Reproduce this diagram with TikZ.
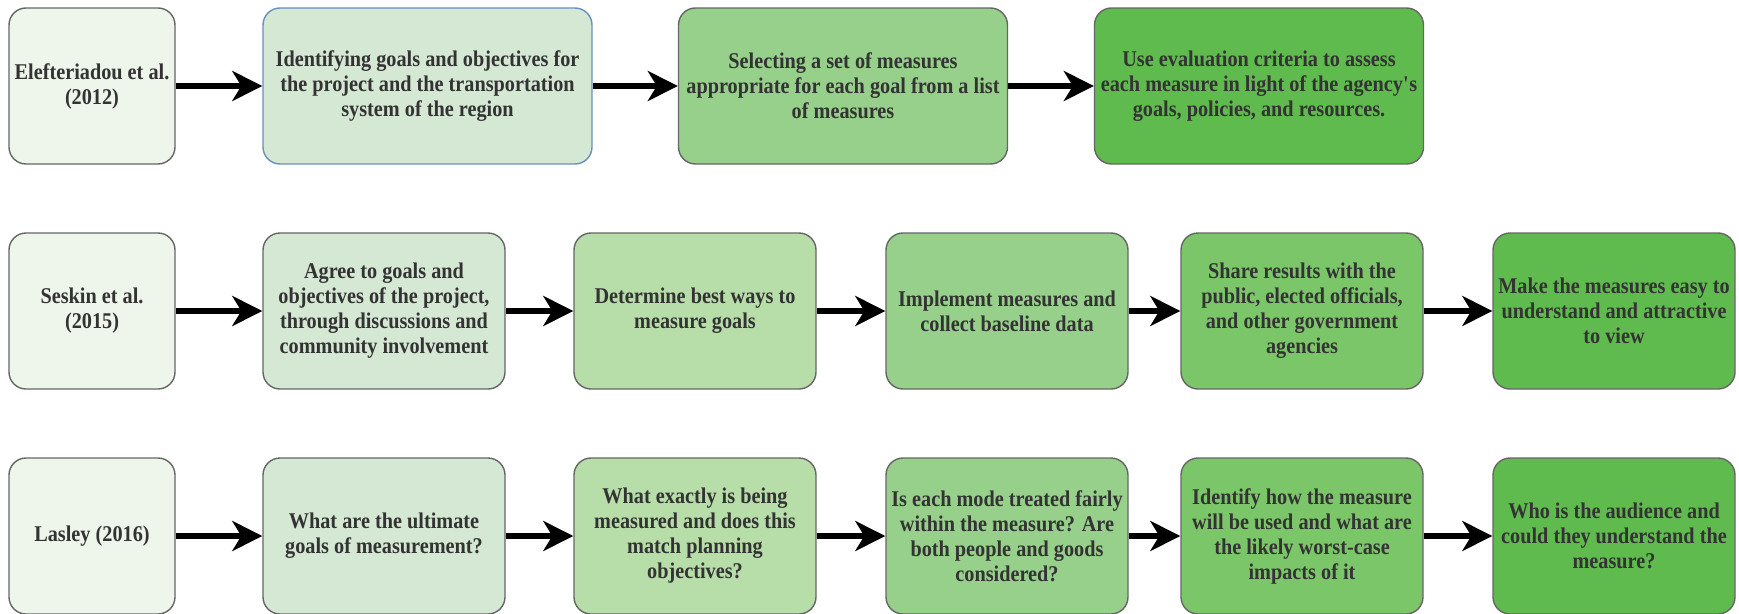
\documentclass[tikz,border=0pt]{standalone}
\usepackage{fontspec}
\setmainfont{Liberation Serif}[FakeStretch=0.9]
\usetikzlibrary{arrows.meta}
\definecolor{cA}{HTML}{EEF5EA}
\definecolor{cB}{HTML}{D5E8D4}
\definecolor{cC}{HTML}{B7DDA9}
\definecolor{cD}{HTML}{97D08A}
\definecolor{cE}{HTML}{7CC66A}
\definecolor{cF}{HTML}{60BB4E}
\definecolor{bordergray}{HTML}{666666}
\definecolor{borderblue}{HTML}{6C8EBF}
\definecolor{txt}{HTML}{333333}
\tikzset{
  box/.style={draw=bordergray, line width=1.4pt, rounded corners=17pt, minimum height=156pt,
    align=center, inner sep=0pt, text=txt, font=\bfseries\fontsize{22.5}{25}\selectfont},
  wide/.style={box, minimum width=329pt},
  narrow/.style={box, minimum width=242pt},
  src/.style={box, minimum width=166pt, fill=cA},
  flow/.style={line width=5.5pt, -{Stealth[length=30pt,width=30pt,inset=9pt]}}
}
\begin{document}
\begin{tikzpicture}[x=1pt,y=-1pt]
\useasboundingbox (0,0) rectangle (1739,613);
% row 1
\node[src] (a1) at (92,86) {Elefteriadou et al.\\(2012)};
\node[wide, fill=cB, draw=borderblue] (b1) at (427.5,86) {Identifying goals and objectives for\\the project and the transportation\\system of the region};
\node[wide, fill=cD] (c1) at (843,86) {Selecting a set of measures\\appropriate for each goal from a list\\of measures};
\node[wide, fill=cF] (d1) at (1259,86) {Use evaluation criteria to assess\\each measure in light of the agency\textquotesingle s\\goals, policies, and resources.};
% row 2
\node[src] (a2) at (92,311) {Seskin et al.\\(2015)};
\node[narrow, fill=cB] (b2) at (384,311) {Agree to goals and\\objectives of the project,\\through discussions and\\community involvement};
\node[narrow, fill=cC] (c2) at (695,311) {Determine best ways to\\measure goals};
\node[narrow, fill=cD] (d2) at (1007,311) {Implement measures and\\collect baseline data};
\node[narrow, fill=cE] (e2) at (1302,311) {Share results with the\\public, elected officials,\\and other government\\agencies};
\node[narrow, fill=cF] (f2) at (1614,311) {Make the measures easy to\\understand and attractive\\to view};
% row 3
\node[src] (a3) at (92,536) {Lasley (2016)};
\node[narrow, fill=cB] (b3) at (384,536) {What are the ultimate\\goals of measurement?};
\node[narrow, fill=cC] (c3) at (695,536) {What exactly is being\\measured and does this\\match planning\\objectives?};
\node[narrow, fill=cD] (d3) at (1007,536) {Is each mode treated fairly\\within the measure? Are\\both people and goods\\considered?};
\node[narrow, fill=cE] (e3) at (1302,536) {Identify how the measure\\will be used and what are\\the likely worst-case\\impacts of it};
\node[narrow, fill=cF] (f3) at (1614,536) {Who is the audience and\\could they understand the\\measure?};
% arrows
\draw[flow] (a1) -- (b1);
\draw[flow] (b1) -- (c1);
\draw[flow] (c1) -- (d1);
\draw[flow] (a2) -- (b2);
\draw[flow] (b2) -- (c2);
\draw[flow] (c2) -- (d2);
\draw[flow] (d2) -- (e2);
\draw[flow] (e2) -- (f2);
\draw[flow] (a3) -- (b3);
\draw[flow] (b3) -- (c3);
\draw[flow] (c3) -- (d3);
\draw[flow] (d3) -- (e3);
\draw[flow] (e3) -- (f3);
\end{tikzpicture}
\end{document}
